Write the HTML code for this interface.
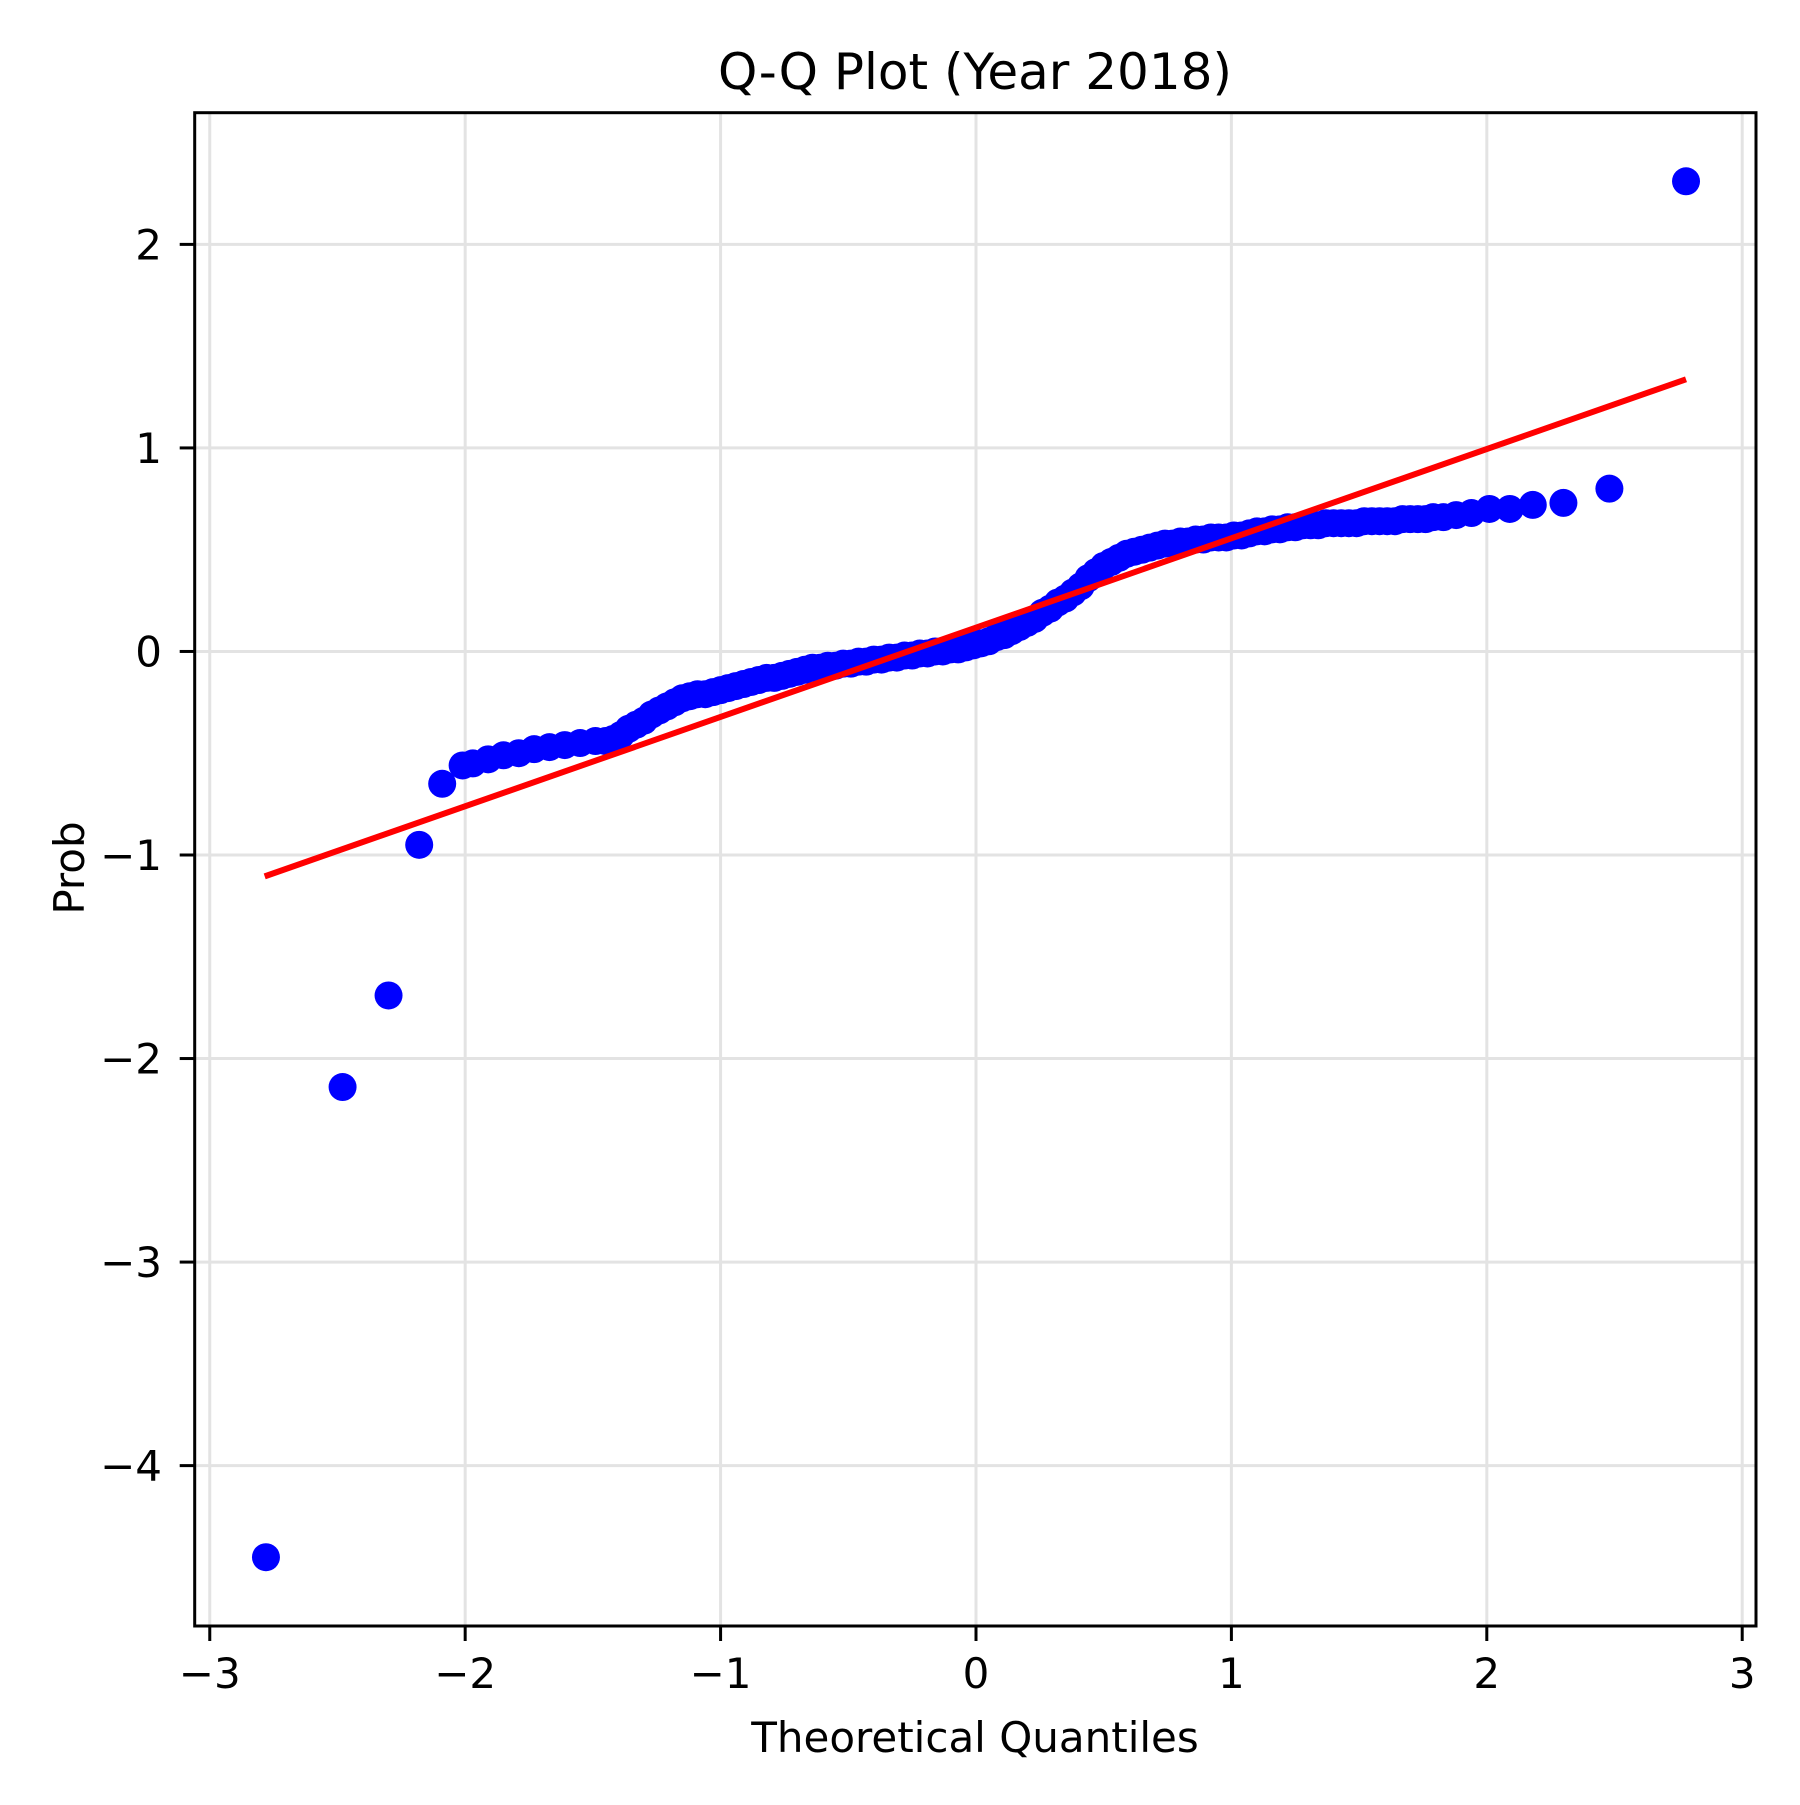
<!DOCTYPE html>
<html><head><meta charset="utf-8"><style>
html,body{margin:0;padding:0;background:#fff;}
svg text{font-family:"DejaVu Sans","Liberation Sans",sans-serif;fill:#000;}
</style></head><body>
<svg id="chart" width="1800" height="1800" viewBox="0 0 1800 1800" xmlns="http://www.w3.org/2000/svg">
<rect width="1800" height="1800" fill="#fff"/>
<g id="grid"></g>
<g id="marks"></g>
<g id="axes"></g>
<text x="975" y="89" font-size="50" text-anchor="middle">Q-Q Plot (Year 2018)</text>
<text x="975" y="1752" font-size="42" text-anchor="middle">Theoretical Quantiles</text>
<text x="84" y="868" font-size="42" text-anchor="middle" transform="rotate(-90 84 868)">Prob</text>
</svg>
<script>
const theoreticalQ = [-2.78,-2.48,-2.30,-2.18,-2.09,-2.01,
-1.97,-1.91,-1.85,-1.79,-1.73,-1.67,-1.61,-1.55,-1.49,-1.45,
-1.42,-1.39,-1.36,-1.33,-1.30,-1.27,-1.24,-1.21,-1.18,-1.15,
-1.12,-1.09,-1.06,-1.03,-1.00,-0.97,-0.94,-0.91,-0.88,-0.85,
-0.82,-0.79,-0.76,-0.73,-0.70,-0.67,-0.64,-0.61,-0.58,-0.55,
-0.52,-0.49,-0.46,-0.43,-0.40,-0.37,-0.34,-0.31,-0.28,-0.25,
-0.22,-0.19,-0.16,-0.13,-0.10,-0.07,-0.04,-0.01,0.02,0.05,
0.08,0.11,0.14,0.17,0.20,0.23,0.26,0.29,0.32,0.35,
0.38,0.41,0.44,0.47,0.50,0.53,0.56,0.59,0.62,0.65,
0.68,0.71,0.74,0.77,0.80,0.83,0.86,0.89,0.92,0.95,
0.98,1.01,1.04,1.07,1.10,1.13,1.16,1.19,1.22,1.25,
1.28,1.31,1.34,1.37,1.40,1.43,1.46,1.49,1.52,1.55,
1.58,1.61,1.64,1.67,1.70,1.73,1.76,1.79,1.83,1.88,
1.94,2.01,2.09,2.18,2.30,2.48,2.78];
const sampleValues = [-4.45,-2.14,-1.69,-0.95,-0.65,-0.56,
-0.55,-0.53,-0.51,-0.50,-0.48,-0.47,-0.46,-0.45,-0.44,-0.44,
-0.43,-0.41,-0.38,-0.36,-0.34,-0.31,-0.29,-0.27,-0.25,-0.23,
-0.22,-0.21,-0.21,-0.20,-0.19,-0.18,-0.17,-0.16,-0.15,-0.14,
-0.13,-0.13,-0.12,-0.11,-0.10,-0.09,-0.08,-0.08,-0.07,-0.07,
-0.06,-0.06,-0.05,-0.05,-0.04,-0.04,-0.03,-0.03,-0.02,-0.02,
-0.01,-0.01,0.00,0.00,0.01,0.01,0.02,0.03,0.04,0.05,
0.07,0.08,0.10,0.12,0.14,0.16,0.19,0.21,0.24,0.26,
0.29,0.32,0.36,0.39,0.42,0.44,0.46,0.48,0.49,0.50,
0.51,0.52,0.53,0.53,0.54,0.54,0.55,0.55,0.56,0.56,
0.56,0.57,0.57,0.58,0.59,0.59,0.60,0.60,0.61,0.61,
0.62,0.62,0.62,0.63,0.63,0.63,0.63,0.63,0.64,0.64,
0.64,0.64,0.64,0.65,0.65,0.65,0.65,0.66,0.66,0.67,
0.68,0.70,0.70,0.72,0.73,0.80,2.31];
const fitLineX = [-2.785, 2.78];
const fitLineY = [-1.105, 1.337];
const xTicks = [-3,-2,-1,0,1,2,3];
const yTicks = [-4,-3,-2,-1,0,1,2];
const xTickLabels = ["\u22123","\u22122","\u22121","0","1","2","3"];
const yTickLabels = ["\u22124","\u22123","\u22122","\u22121","0","1","2"];

const L=194.7,R=1756,T=112.7,B=1626;
const xMin=-3.059,xMax=3.054,yMin=-4.788,yMax=2.647;
function sx(v){return L+(v-xMin)/(xMax-xMin)*(R-L);}
function sy(v){return B-(v-yMin)/(yMax-yMin)*(B-T);}
const NS="http://www.w3.org/2000/svg";
function mk(tag,attrs,parent){const e=document.createElementNS(NS,tag);for(const k in attrs)e.setAttribute(k,attrs[k]);parent.appendChild(e);return e;}
const grid=document.getElementById('grid'),marks=document.getElementById('marks'),axes=document.getElementById('axes');
xTicks.forEach((t,i)=>{
  const g=mk('line',{x1:sx(t),x2:sx(t),y1:T,y2:B,stroke:'#e3e3e3','stroke-width':3},grid);
  
  
  const tk=mk('line',{x1:sx(t),x2:sx(t),y1:B,y2:B+15,stroke:'#000','stroke-width':3},axes);
  
  
  const tx=mk('text',{x:sx(t),y:1688,'font-size':42,'text-anchor':'middle'},axes);
  tx.textContent=xTickLabels[i];
  
  
});
yTicks.forEach((t,i)=>{
  const g=mk('line',{x1:L,x2:R,y1:sy(t),y2:sy(t),stroke:'#e3e3e3','stroke-width':3},grid);
  
  
  const tk=mk('line',{x1:L-15,x2:L,y1:sy(t),y2:sy(t),stroke:'#000','stroke-width':3},axes);
  
  
  const tx=mk('text',{x:162,y:sy(t)+15,'font-size':42,'text-anchor':'end'},axes);
  tx.textContent=yTickLabels[i];
  
  
});
const n=Math.min(theoreticalQ.length,sampleValues.length);
for(let i=0;i<n;i++){
  const c=mk('circle',{cx:sx(theoreticalQ[i]),cy:sy(sampleValues[i]),r:14,fill:'#0000ff'},marks);
  
  
}
const ln=mk('line',{x1:sx(fitLineX[0]),y1:sy(fitLineY[0]),x2:sx(fitLineX[1]),y2:sy(fitLineY[1]),stroke:'#ff0000','stroke-width':6},marks);


const fr=mk('rect',{x:L,y:T,width:R-L,height:B-T,fill:'none',stroke:'#000','stroke-width':3},axes);


</script>
</body></html>
